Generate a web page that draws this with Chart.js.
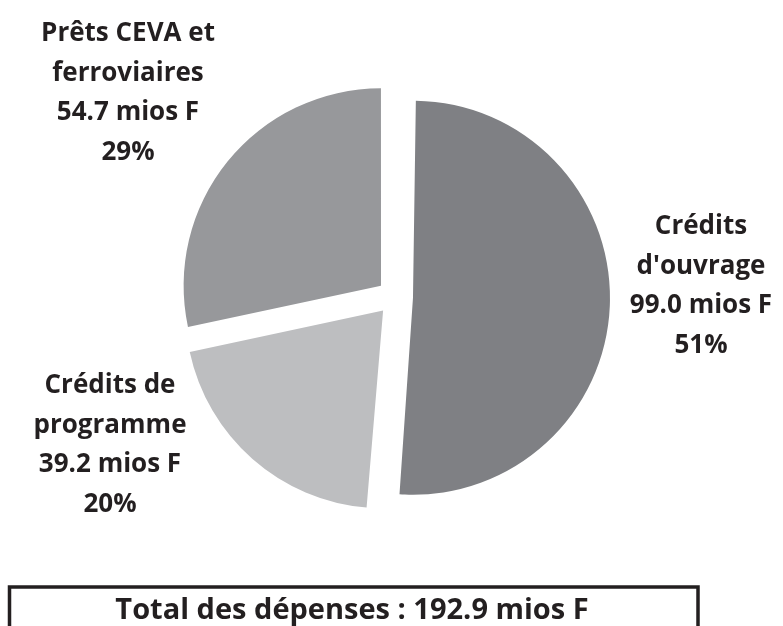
<!DOCTYPE html>
<html>
<head>
<meta charset="utf-8">
<script src="https://cdn.jsdelivr.net/npm/chart.js@4"></script>
<style>
  html, body { margin: 0; padding: 0; background: #fff; }
  #wrap { position: relative; width: 783px; height: 626px; }
</style>
</head>
<body>
<div id="wrap"><canvas id="pie" width="783" height="626"></canvas></div>
<script>
// ----- Data -----
const categories = [["Crédits", "d'ouvrage"], ["Crédits de", "programme"], ["Prêts CEVA et", "ferroviaires"]];
const amounts = [99.0, 39.2, 54.7];
const percentLabels = ["51%", "20%", "29%"];
const unit = "mios F";

// ----- Look -----
const sliceColors = ["#7f8084", "#bdbec0", "#97989b"];
const TEXT = "#231f20";
const FONT = "bold 26px 'Open Sans'";
const TOTAL_FONT = "bold 29px 'Open Sans'";
const LINE = 39.5;
const labelAnchors = [[701, 234], [110, 393], [128, 41]]; // centre x, first baseline

const fmt = (v) => v.toFixed(1) + " " + unit;

const labelPlugin = {
  id: "sliceLabels",
  afterDatasetsUpdate(chart) {
    // Chart.js grows exploded arcs wider than a half circle by offset/4,
    // pull them back so every slice keeps the same radius
    chart.getDatasetMeta(0).data.forEach(arc => {
      if (arc.circumference > Math.PI) arc.outerRadius -= (arc.options.offset || 0) / 4;
    });
  },
  afterDraw(chart) {
    const ctx = chart.ctx;
    ctx.save();
    ctx.fillStyle = TEXT;
    ctx.font = FONT;
    ctx.textAlign = "center";
    ctx.textBaseline = "alphabetic";

    amounts.forEach((v, i) => {
      const lines = [...categories[i], fmt(v), percentLabels[i]];
      const [x, y] = labelAnchors[i];
      lines.forEach((t, j) => ctx.fillText(t, x, y + j * LINE));
    });

    // total box (open at the bottom, cut by the page edge)
    const total = amounts.reduce((a, b) => a + b, 0);
    ctx.strokeStyle = TEXT;
    ctx.lineWidth = 3.5;
    ctx.beginPath();
    ctx.moveTo(9.5, 640);
    ctx.lineTo(9.5, 587);
    ctx.lineTo(698, 587);
    ctx.lineTo(698, 640);
    ctx.stroke();
    ctx.font = TOTAL_FONT;
    ctx.fillText("Total des dépenses : " + fmt(total), 352, 619);
    ctx.restore();
  }
};

new Chart(document.getElementById("pie"), {
  type: "pie",
  data: {
    labels: categories.map(c => c.join(" ")),
    datasets: [{
      data: amounts,
      backgroundColor: sliceColors,
      borderWidth: 0,
      offset: 72,
      radius: 197
    }]
  },
  options: {
    responsive: false,
    animation: false,
    events: [],
    layout: { padding: { left: 7, right: 0, top: 0, bottom: 32 } },
    plugins: {
      legend: { display: false },
      tooltip: { enabled: false }
    }
  },
  plugins: [labelPlugin]
});
</script>
</body>
</html>
